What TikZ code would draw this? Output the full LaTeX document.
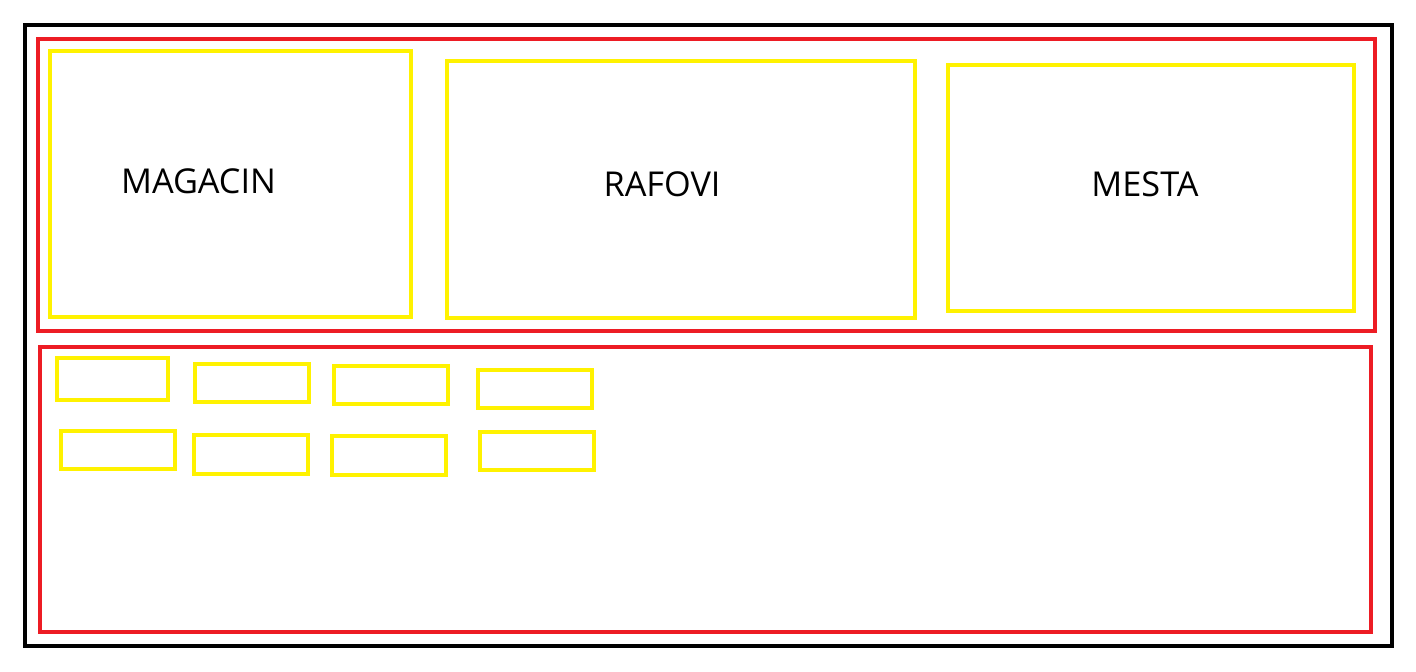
\documentclass[tikz,border=0pt]{standalone}
\usepackage{fontspec}
\setmainfont{Open Sans}
\usepackage{tikz}
\definecolor{zonered}{HTML}{ED1C24}
\definecolor{roomyellow}{HTML}{FFF200}

\begin{document}
\begin{tikzpicture}[x=0.02cm,y=-0.02cm,line width=0.08cm,font=\fontsize{19.5}{23}\selectfont,
  frame/.style={draw=black},zone/.style={draw=zonered},room/.style={draw=roomyellow}]
\useasboundingbox (0,0) rectangle (1416,672);
% outer frame and the two zones
\draw[frame] (25,25) rectangle (1392,645.5);
\draw[zone] (38,39) rectangle (1375,331);
\draw[zone] (39.5,347) rectangle (1371,632);
% upper zone
\draw[room] (50,51) rectangle (411,316.5);\node (magacin) at (198.5,181) {MAGACIN};
\draw[room] (447,61) rectangle (915,317.5);\node (rafovi) at (662,184) {RAFOVI};
\draw[room] (948,65) rectangle (1353.5,311);\node (mesta) at (1145,184.5) {MESTA};
% lower zone, first row
\draw[room] (56.5,357.5) rectangle (168,400);
\draw[room] (195,363.5) rectangle (309,402);
\draw[room] (334,365.5) rectangle (448,404);
\draw[room] (478,369.5) rectangle (592,408);
% lower zone, second row
\draw[room] (61,430.5) rectangle (175,469);
\draw[room] (194,435) rectangle (308,473.5);
\draw[room] (332,436) rectangle (446,474.5);
\draw[room] (480,431.5) rectangle (594,470);
\end{tikzpicture}
\end{document}
